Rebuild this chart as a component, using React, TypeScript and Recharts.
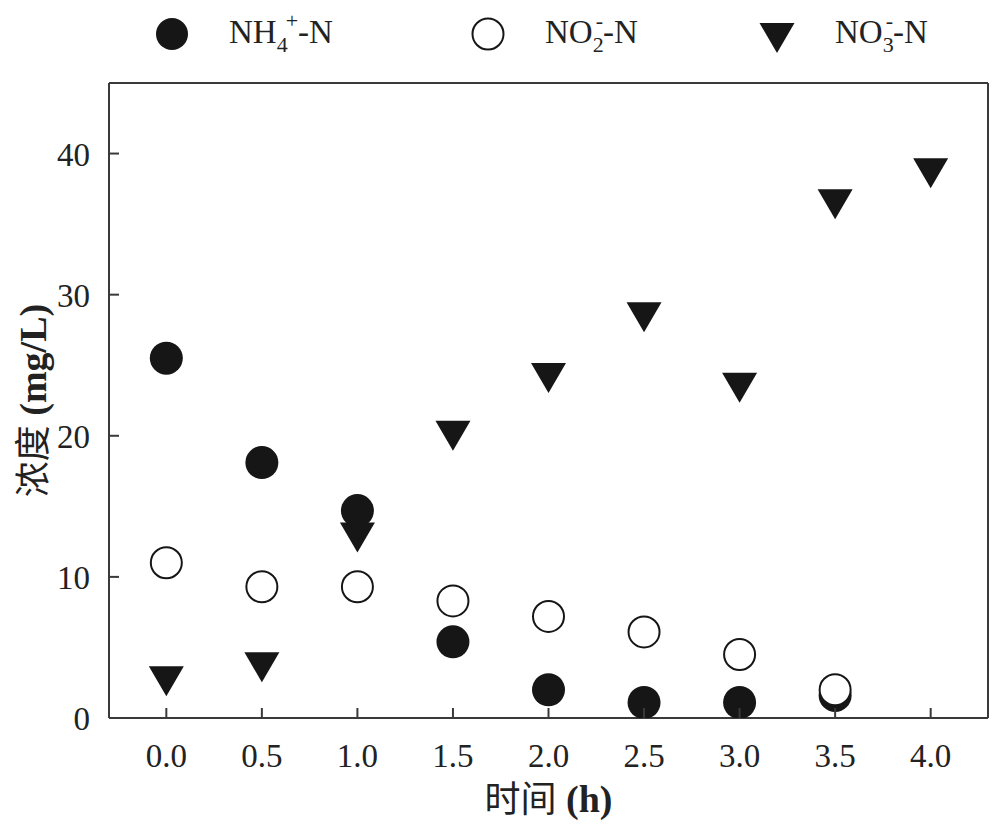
import React from "react";
import { ScatterChart, Scatter, XAxis, YAxis, Legend } from "recharts";

// sampling times (h)
const times = [0, 0.5, 1.0, 1.5, 2.0, 2.5, 3.0, 3.5, 4.0];
// concentrations (mg/L)
const nh4Values = [25.5, 18.1, 14.7, 5.4, 2.0, 1.1, 1.1, 1.6];
const no2Values = [11.0, 9.3, 9.3, 8.3, 7.2, 6.1, 4.5, 2.0];
const no3Values = [2.6, 3.6, 12.8, 20.0, 24.1, 28.4, 23.4, 36.4, 38.6];

const xTicks = [0, 0.5, 1.0, 1.5, 2.0, 2.5, 3.0, 3.5, 4.0];
const yTicks = [0, 10, 20, 30, 40];

const INK = "#161616";
const AXIS = "#3a3a3a";
const FONT = "'Liberation Serif', 'Times New Roman', 'Noto Sans CJK SC', serif";

const toPoints = (vals: number[]) => vals.map((v, i) => ({ x: times[i], y: v }));

const FilledCircle = (p: any) => <circle cx={p.cx} cy={p.cy} r={16.5} fill={INK} />;
const OpenCircle = (p: any) => (
  <circle cx={p.cx} cy={p.cy} r={15.5} fill="#fff" stroke={INK} strokeWidth={2} />
);
const DownTriangle = (p: any) => (
  <polygon
    points={`${p.cx - 17.5},${p.cy - 15} ${p.cx + 17.5},${p.cy - 15} ${p.cx},${p.cy + 15}`}
    fill={INK}
  />
);

function XTick(props: any) {
  const { x, y, payload } = props;
  const axisY = y - 25;
  return (
    <g>
      <line x1={x} x2={x} y1={axisY} y2={axisY - 10} stroke={AXIS} strokeWidth={2} />
      <text x={x} y={axisY + 49} textAnchor="middle" fontFamily={FONT} fontSize={33} fill="#222">
        {Number(payload.value).toFixed(1)}
      </text>
    </g>
  );
}

function YTick(props: any) {
  const { x, y, payload } = props;
  const axisX = x + 19;
  return (
    <g>
      {payload.value !== 0 && (
        <line x1={axisX} x2={axisX + 10} y1={y} y2={y} stroke={AXIS} strokeWidth={2} />
      )}
      <text x={x} y={y + 12} textAnchor="end" fontFamily={FONT} fontSize={33} fill="#222">
        {payload.value}
      </text>
    </g>
  );
}

function LegendBox() {
  const sub = 22;
  return (
    <svg width={1000} height={70}>
      <circle cx={172} cy={34} r={16} fill={INK} />
      <text x={229} y={43} fontFamily={FONT} fontSize={33} fill="#222">
        NH<tspan fontSize={sub} dy={9}>4</tspan>
        <tspan fontSize={sub} dx={-2} dy={-24}>+</tspan>
        <tspan dy={15}>-N</tspan>
      </text>
      <circle cx={488} cy={34} r={15.5} fill="#fff" stroke={INK} strokeWidth={2} />
      <text x={545} y={43} fontFamily={FONT} fontSize={33} fill="#222">
        NO<tspan fontSize={sub} dy={9}>2</tspan>
        <tspan fontSize={sub} dx={-8} dy={-24}>-</tspan>
        <tspan dy={15}>-N</tspan>
      </text>
      <polygon points="759.5,23 794.5,23 777,53" fill={INK} />
      <text x={835} y={43} fontFamily={FONT} fontSize={33} fill="#222">
        NO<tspan fontSize={sub} dy={9}>3</tspan>
        <tspan fontSize={sub} dx={-8} dy={-24}>-</tspan>
        <tspan dy={15}>-N</tspan>
      </text>
    </svg>
  );
}

const XTitle = (props: any) => {
  const vb = props.viewBox;
  return (
    <text x={vb.x + vb.width / 2} y={vb.y + 94} textAnchor="middle" fontFamily={FONT} fontSize={38} fill="#222">
      <tspan fontFamily="'Noto Sans CJK SC', sans-serif" fontSize={36}>时间</tspan>
      <tspan fontWeight="bold"> (h)</tspan>
    </text>
  );
};

const YTitle = (props: any) => {
  const vb = props.viewBox;
  const cx = 46;
  const cy = vb.y + vb.height / 2;
  return (
    <text
      x={cx}
      y={cy}
      transform={`rotate(-90, ${cx}, ${cy})`}
      textAnchor="middle"
      fontFamily={FONT}
      fontSize={38}
      fill="#222"
    >
      <tspan fontFamily="'Noto Sans CJK SC', sans-serif" fontSize={36}>浓度</tspan>
      <tspan fontWeight="bold"> (mg/L)</tspan>
    </text>
  );
};

export default function App() {
  if (typeof document !== "undefined") document.body.style.margin = "0";
  return (
    <div style={{ width: 1000, height: 833, background: "#fff" }}>
      <ScatterChart width={1000} height={833} margin={{ top: 82, right: 11, bottom: 0, left: 29 }}>
        <XAxis
          xAxisId="b"
          dataKey="x"
          type="number"
          domain={[-0.3, 4.3]}
          ticks={xTicks}
          interval={0}
          height={115}
          tickSize={0}
          tickMargin={25}
          tickLine={false}
          axisLine={{ stroke: AXIS, strokeWidth: 2 }}
          tick={XTick}
          label={XTitle}
          allowDataOverflow
        />
        {/* top and right frame lines */}
        <XAxis
          xAxisId="t"
          orientation="top"
          type="number"
          domain={[-0.3, 4.3]}
          height={1}
          tick={false}
          tickLine={false}
          axisLine={{ stroke: AXIS, strokeWidth: 2 }}
          allowDataOverflow
        />
        <YAxis
          yAxisId="l"
          dataKey="y"
          type="number"
          domain={[0, 45]}
          ticks={yTicks}
          interval={0}
          width={80}
          tickSize={0}
          tickMargin={19}
          tickLine={false}
          axisLine={{ stroke: AXIS, strokeWidth: 2 }}
          tick={YTick}
          label={YTitle}
          allowDataOverflow
        />
        <YAxis
          yAxisId="r"
          orientation="right"
          type="number"
          domain={[0, 45]}
          width={1}
          tick={false}
          tickLine={false}
          axisLine={{ stroke: AXIS, strokeWidth: 2 }}
          allowDataOverflow
        />
        <Legend
          layout="horizontal"
          verticalAlign="middle"
          align="center"
          wrapperStyle={{ top: 0, left: 0, width: 1000, height: 70 }}
          content={() => <LegendBox />}
        />
        <Scatter name="NO3-N" data={toPoints(no3Values)} xAxisId="b" yAxisId="l" shape={DownTriangle} isAnimationActive={false} />
        <Scatter name="NH4-N" data={toPoints(nh4Values)} xAxisId="b" yAxisId="l" shape={FilledCircle} isAnimationActive={false} />
        <Scatter name="NO2-N" data={toPoints(no2Values)} xAxisId="b" yAxisId="l" shape={OpenCircle} isAnimationActive={false} />
      </ScatterChart>
    </div>
  );
}
